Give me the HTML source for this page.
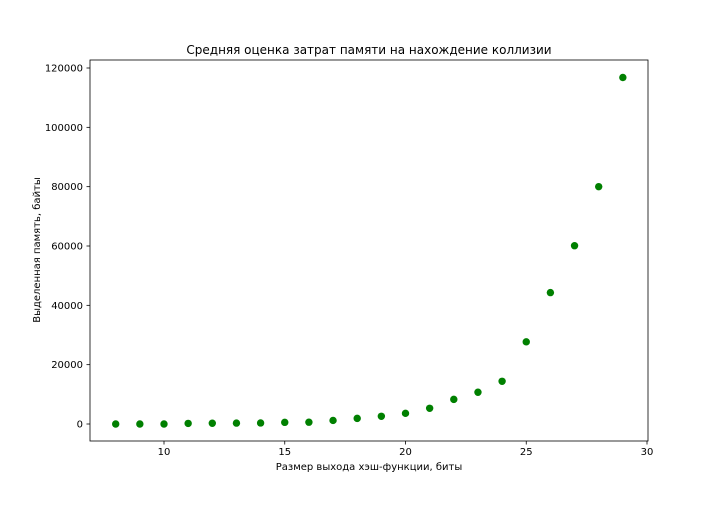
<!DOCTYPE html>
<html><head><meta charset="utf-8"><style>
body{margin:0;background:#fff;}
svg text{font-family:"DejaVu Sans","Liberation Sans",sans-serif;fill:#000;}
</style></head><body>
<svg id="chart" width="720" height="504" viewBox="0 0 720 504">
<rect width="720" height="504" fill="#fff"/>
<text x="369" y="54" font-size="12" text-anchor="middle">Средняя оценка затрат памяти на нахождение коллизии</text>
<g id="axes"></g>
<g id="points"></g>
<rect x="90" y="60" width="558" height="381" fill="none" stroke="#000" stroke-width="0.8"/>
<text x="369" y="470" font-size="10" text-anchor="middle">Размер выхода хэш-функции, биты</text>
<text x="40" y="250" font-size="10" text-anchor="middle" transform="rotate(-90 40 250)">Выделенная память, байты</text>
</svg>
<script>
const bits = [8,9,10,11,12,13,14,15,16,17,18,19,20,21,22,23,24,25,26,27,28,29];
const memory = [0,0,0,200,250,300,350,560,600,1200,1900,2600,3600,5300,8300,10700,14400,27700,44300,60100,80000,116800];
const xTicks = [10,15,20,25,30];
const yTicks = [0,20000,40000,60000,80000,100000,120000];
const NS='http://www.w3.org/2000/svg';
function X(v){return 164+(v-10)*(647-164)/20;}
function Y(v){return 424-v*(424-68)/120000;}
const axes=document.getElementById('axes'), pts=document.getElementById('points');
function mk(t,a,p){const e=document.createElementNS(NS,t);for(const k in a)e.setAttribute(k,a[k]);p.appendChild(e);return e;}
xTicks.forEach(t=>{
  const l=mk('line',{x1:X(t),x2:X(t),y1:441,y2:444.5,stroke:'#000','stroke-width':0.8},axes);
  
  
  const tx=mk('text',{x:X(t),y:455,'font-size':10,'text-anchor':'middle'},axes);tx.textContent=t;
  
  
});
yTicks.forEach(t=>{
  const l=mk('line',{x1:86.5,x2:90,y1:Y(t),y2:Y(t),stroke:'#000','stroke-width':0.8},axes);
  
  
  const tx=mk('text',{x:83,y:Y(t)+3.5,'font-size':10,'text-anchor':'end'},axes);tx.textContent=t;
  
  
});
bits.forEach((b,i)=>{
  const c=mk('circle',{cx:X(b),cy:Y(memory[i]),r:3.7,fill:'#008000'},pts);
  
  
});
</script>
</body></html>
